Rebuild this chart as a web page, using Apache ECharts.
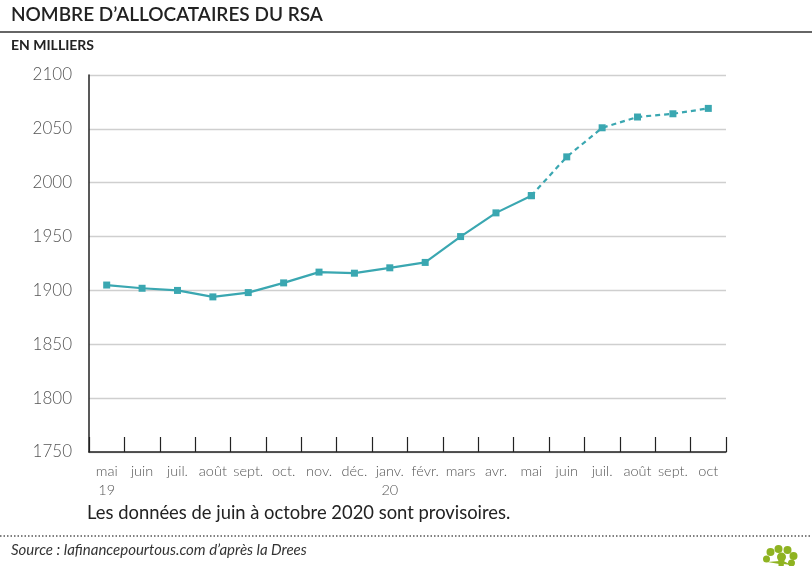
<!DOCTYPE html>
<html><head><meta charset="utf-8">
<script src="https://cdn.jsdelivr.net/npm/echarts@6/dist/echarts.min.js"></script>
<style>html,body{margin:0;padding:0;background:#fff}#c{width:812px;height:566px}</style>
</head><body><div id="c"></div>
<script>
const categories = ['mai\n19','juin','juil.','août','sept.','oct.','nov.','déc.','janv.\n20','févr.','mars','avr.','mai','juin','juil.','août','sept.','oct'];
const definitive = [1905,1902,1900,1894,1898,1907,1917,1916,1921,1926,1950,1972,1988,null,null,null,null,null];
const provisional = [null,null,null,null,null,null,null,null,null,null,null,null,1988,2024,2051,2061,2064,2069];
const yTicks = {min:1750, max:2100, interval:50};

const teal = '#3aa7b1';
const chart = echarts.init(document.getElementById('c'), null, {renderer:'canvas'});
const font = 'Lato, "Open Sans", sans-serif';
const g = '#8fb321';
chart.setOption({
  animation:false,
  backgroundColor:'#fff',
  grid:{left:89, right:86, top:75, bottom:114},
  xAxis:{type:'category', data:categories, boundaryGap:true,
    axisLine:{show:true, lineStyle:{color:'#222', width:1.5}},
    axisTick:{show:true, inside:true, interval:0, length:15, lineStyle:{color:'#222', width:1.2}},
    axisLabel:{color:'#555', fontFamily:font, fontSize:14.5, fontWeight:300, margin:10, lineHeight:19, interval:0}},
  yAxis:{type:'value', min:yTicks.min, max:yTicks.max, interval:yTicks.interval,
    axisLine:{show:true, lineStyle:{color:'#222', width:1.5}},
    axisTick:{show:false},
    splitLine:{show:true, lineStyle:{color:'#cfcfcf', width:1.3}},
    axisLabel:{color:'#555', fontFamily:font, fontSize:17, fontWeight:300, margin:17,
      formatter:function(v){return String(v);}}},
  series:[
    {type:'line', data:definitive, symbol:'rect', symbolSize:7, connectNulls:false,
     lineStyle:{color:teal, width:2.2}, itemStyle:{color:teal}, z:3},
    {type:'line', data:provisional, symbol:'rect', symbolSize:7, connectNulls:false,
     lineStyle:{color:teal, width:2.2, type:[5,4]}, itemStyle:{color:teal}, z:2}
  ],
  graphic:[
    {type:'text', left:11, top:5, style:{text:'NOMBRE D\u2019ALLOCATAIRES DU RSA', fill:'#222', font:'600 19px '+font}},
    {type:'line', shape:{x1:0,y1:32,x2:812,y2:32}, style:{stroke:'#333', lineWidth:1.5}},
    {type:'text', left:11, top:38, style:{text:'EN MILLIERS', fill:'#222', font:'bold 14px '+font}},
    {type:'text', left:87, top:504, style:{text:'Les données de juin à octobre 2020 sont provisoires.', fill:'#222', font:'18.4px '+font}},
    {type:'line', shape:{x1:0,y1:536,x2:812,y2:536}, style:{stroke:'#555', lineWidth:1.5, lineDash:[1.5,2]}},
    {type:'text', left:11, top:543, style:{text:'Source : lafinancepourtous.com d\u2019après la Drees', fill:'#333', font:'italic 15px '+font}},
    {type:'group', left:763, top:545, children:[
      {type:'circle', shape:{cx:7,cy:6,r:4}, style:{fill:g}},
      {type:'circle', shape:{cx:15,cy:3,r:4}, style:{fill:g}},
      {type:'circle', shape:{cx:24,cy:4,r:4}, style:{fill:g}},
      {type:'circle', shape:{cx:30,cy:10,r:4}, style:{fill:g}},
      {type:'circle', shape:{cx:3,cy:13,r:3.5}, style:{fill:g}},
      {type:'circle', shape:{cx:18,cy:11,r:4.5}, style:{fill:g}},
      {type:'circle', shape:{cx:28,cy:17,r:3.5}, style:{fill:g}},
      {type:'polygon', shape:{points:[[15,12],[21,12],[20,22],[15,22]]}, style:{fill:g}},
      {type:'polygon', shape:{points:[[4,16],[16,15],[16,18]]}, style:{fill:g}},
      {type:'polygon', shape:{points:[[20,15],[28,19],[20,18]]}, style:{fill:g}}
    ]}
  ]
});
</script></body></html>
